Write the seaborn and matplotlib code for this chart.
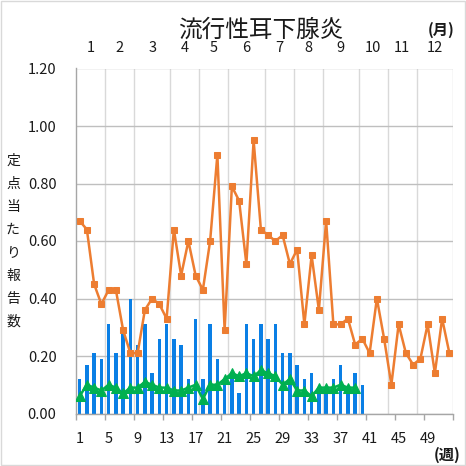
import numpy as np
import pandas as pd
import seaborn as sns
import matplotlib.pyplot as plt
from matplotlib.patches import Rectangle

# 週ごとの定点当たり報告数
weeks = list(range(1, 53))
bar_values = [0.12, 0.17, 0.21, 0.19, 0.31, 0.21, 0.30, 0.40, 0.24, 0.31,
              0.14, 0.26, 0.31, 0.26, 0.24, 0.12, 0.33, 0.12, 0.31, 0.19,
              0.10, 0.14, 0.07, 0.31, 0.26, 0.31, 0.26, 0.31, 0.21, 0.21,
              0.17, 0.12, 0.14, 0.07, 0.07, 0.12, 0.17, 0.07, 0.14, 0.10]
orange_values = [0.67, 0.64, 0.45, 0.38, 0.43, 0.43, 0.29, 0.21, 0.21, 0.36,
                 0.40, 0.38, 0.33, 0.64, 0.48, 0.60, 0.48, 0.43, 0.60, 0.90,
                 0.29, 0.79, 0.74, 0.52, 0.95, 0.64, 0.62, 0.60, 0.62, 0.52,
                 0.57, 0.31, 0.55, 0.36, 0.67, 0.31, 0.31, 0.33, 0.24, 0.26,
                 0.21, 0.40, 0.26, 0.10, 0.31, 0.21, 0.17, 0.19, 0.31, 0.14,
                 0.33, 0.21]
green_values = [0.06, 0.10, 0.09, 0.08, 0.10, 0.09, 0.07, 0.09, 0.09, 0.11,
                0.10, 0.09, 0.09, 0.08, 0.08, 0.09, 0.10, 0.05, 0.10, 0.10,
                0.12, 0.14, 0.13, 0.14, 0.13, 0.15, 0.14, 0.13, 0.10, 0.12,
                0.08, 0.08, 0.06, 0.09, 0.09, 0.09, 0.10, 0.09, 0.09]
week_tick_labels = [1, 5, 9, 13, 17, 21, 25, 29, 33, 37, 41, 45, 49]
months = list(range(1, 13))
month_weeks = [4, 4, 5, 4, 4, 5, 4, 4, 5, 4, 4, 5]

sns.set_theme(style='white')
plt.rcParams['font.family'] = ['Noto Sans CJK JP', 'DejaVu Sans']
txt = '#1a1a1a'

fig = plt.figure(figsize=(4.66, 4.66), dpi=100)
ax = fig.add_axes([76 / 466, 1 - 413.5 / 466, 377 / 466, 345 / 466])

# 上側の月軸（奥に描く）
ax2 = ax.twiny()
ax2.set_zorder(ax.get_zorder() - 1)
ax.patch.set_visible(False)
ax2.patch.set_facecolor('white')

df_bar = pd.DataFrame({'week': weeks[:len(bar_values)], 'value': bar_values})
sns.barplot(data=df_bar, x='week', y='value', native_scale=True, width=0.5,
            color='#0A7FE5', saturation=1, errorbar=None, linewidth=0,
            ax=ax, zorder=2)
sns.lineplot(x=weeks, y=orange_values, color='#ED7D31', marker='s',
             markersize=5, markeredgecolor='#ED7D31', linewidth=1.8, ax=ax, zorder=3)
sns.lineplot(x=weeks[:len(green_values)], y=green_values, color='#00B050',
             marker='^', markersize=6.5, markeredgecolor='#00B050', linewidth=1.8,
             ax=ax, zorder=4)

ax.set_xlim(0.5, 52.5)
ax.set_ylim(0, 1.2)
ax.set_xlabel('')
ax.set_ylabel('')

# 下側の週軸
edges = np.arange(0.5, 53, 4)
ax.set_xticks(edges)
ax.set_xticklabels([])
ax.set_xticks(week_tick_labels, minor=True)
ax.set_xticklabels([str(w) for w in week_tick_labels], minor=True)
ax.tick_params(axis='x', which='major', length=4, width=1, color='#A6A6A6',
               direction='out', bottom=True)
ax.tick_params(axis='x', which='minor', length=0, pad=13, labelsize=10.5,
               labelcolor=txt)

ax.set_yticks(np.arange(0, 1.21, 0.2))
ax.set_yticklabels([f'{v:.2f}' for v in np.arange(0, 1.21, 0.2)])
ax.tick_params(axis='y', length=0, pad=14, labelsize=10.5, labelcolor=txt)
ax.yaxis.grid(True, color='#BFBFBF', linewidth=1)
ax.xaxis.grid(False)
ax.set_axisbelow(True)
for side in ['top', 'right']:
    ax.spines[side].set_visible(False)
for side in ['left', 'bottom']:
    ax.spines[side].set_color('#A6A6A6')
    ax.spines[side].set_linewidth(1)

bounds = 0.5 + np.cumsum([0] + month_weeks)
centers = (bounds[:-1] + bounds[1:]) / 2
ax2.set_xlim(ax.get_xlim())
ax2.set_xticks(centers)
ax2.set_xticklabels([str(m) for m in months])
ax2.set_xticks(bounds[1:], minor=True)
ax2.tick_params(axis='x', which='both', length=0, pad=10, labelsize=10.5,
                labelcolor=txt)
ax2.xaxis.grid(True, which='minor', color='#D9D9D9', linewidth=1)
ax2.yaxis.grid(False)
for s in ax2.spines.values():
    s.set_visible(False)

fig.text(261 / 466, 1 - 30 / 466, '流行性耳下腺炎', ha='center', va='center',
         fontsize=17, color=txt)
fig.text(441 / 466, 1 - 30 / 466, '(月)', ha='center', va='center',
         fontsize=11, fontweight='bold', color=txt)
fig.text(447 / 466, 1 - 455 / 466, '(週)', ha='center', va='center',
         fontsize=11, fontweight='bold', color=txt)
for i, ch in enumerate('定点当たり報告数'):
    fig.text(13 / 466, 1 - (160.5 + 23 * i) / 466, ch, ha='center',
             va='center', fontsize=10, color=txt)

fig.patches.append(Rectangle((0.002, 0.002), 0.996, 0.996,
                             transform=fig.transFigure, fill=False,
                             edgecolor='#D9D9D9', linewidth=1))

fig.savefig('out.png', dpi=100)
